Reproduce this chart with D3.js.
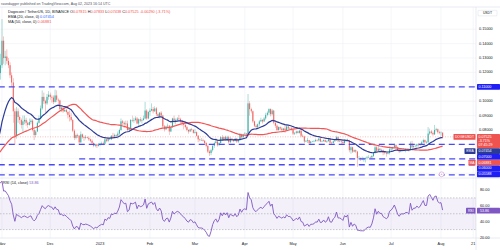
<!DOCTYPE html>
<meta charset="utf-8">
<script src="https://cdn.jsdelivr.net/npm/d3@7"></script>
<style>
    body { margin: 0; background: #fff; }
    svg { display: block; font-family: "Liberation Sans", Arial, sans-serif; }
</style>
<svg width="500" height="250"></svg>
<script>

    // closes before the visible window (Sep 11 - Oct 29 2022), warm-up for EMA / MA / RSI
    var preCloses = [
        0.0630, 0.0625, 0.0590, 0.0610, 0.0600, 0.0605, 0.0612, 0.0585, 0.0600, 0.0595,
        0.0580, 0.0590, 0.0600, 0.0605, 0.0595, 0.0605, 0.0615, 0.0608, 0.0612, 0.0610,
        0.0608, 0.0605, 0.0618, 0.0640, 0.0632, 0.0630, 0.0615, 0.0618, 0.0610, 0.0598,
        0.0595, 0.0597, 0.0600, 0.0595, 0.0594, 0.0600, 0.0602, 0.0595, 0.0590, 0.0588,
        0.0594, 0.0598, 0.0610, 0.0610, 0.0640, 0.0660, 0.0750, 0.0835, 0.1250
    ];

    // daily bars from Oct 30 2022 to Aug 2 2023 (open = previous close)
    var firstDay = Date.UTC(2022, 9, 30);
    var closes = [
        0.1195, 0.1250,
        // Nov
        0.1420, 0.1300, 0.1310, 0.1280, 0.1250, 0.1180, 0.1130, 0.0930, 0.0760, 0.0930,
        0.0890, 0.0870, 0.0835, 0.0860, 0.0870, 0.0850, 0.0835, 0.0855, 0.0865, 0.0800,
        0.0765, 0.0790, 0.0850, 0.0880, 0.0950, 0.1030, 0.1000, 0.0985, 0.1030, 0.1045,
        // Dec
        0.1030, 0.1025, 0.0995, 0.1040, 0.1010, 0.1005, 0.0945, 0.0955, 0.0930, 0.0940,
        0.0925, 0.0905, 0.0890, 0.0870, 0.0795, 0.0745, 0.0765, 0.0760, 0.0715, 0.0770,
        0.0750, 0.0745, 0.0750, 0.0745, 0.0735, 0.0725, 0.0710, 0.0690, 0.0700, 0.0690, 0.0700,
        // Jan
        0.0705, 0.0710, 0.0705, 0.0735, 0.0725, 0.0740, 0.0735, 0.0760, 0.0755, 0.0765,
        0.0760, 0.0775, 0.0800, 0.0860, 0.0850, 0.0840, 0.0845, 0.0800, 0.0810, 0.0870,
        0.0865, 0.0870, 0.0880, 0.0845, 0.0875, 0.0865, 0.0870, 0.0880, 0.0935, 0.0880, 0.0925,
        // Feb
        0.0935, 0.0945, 0.0930, 0.0950, 0.0910, 0.0895, 0.0920, 0.0900, 0.0825, 0.0805,
        0.0825, 0.0830, 0.0790, 0.0820, 0.0880, 0.0855, 0.0870, 0.0880, 0.0875, 0.0860,
        0.0845, 0.0835, 0.0820, 0.0800, 0.0790, 0.0805, 0.0800, 0.0780,
        // Mar
        0.0785, 0.0760, 0.0735, 0.0730, 0.0730, 0.0725, 0.0710, 0.0690, 0.0650, 0.0640,
        0.0660, 0.0690, 0.0710, 0.0720, 0.0695, 0.0710, 0.0750, 0.0730, 0.0750, 0.0735,
        0.0750, 0.0715, 0.0740, 0.0730, 0.0725, 0.0740, 0.0720, 0.0730, 0.0770, 0.0750, 0.0770,
        // Apr
        0.0775, 0.0770, 0.0985, 0.0945, 0.0930, 0.0860, 0.0830, 0.0820, 0.0840, 0.0860,
        0.0870, 0.0860, 0.0880, 0.0905, 0.0920, 0.0945, 0.0910, 0.0935, 0.0850, 0.0830,
        0.0800, 0.0820, 0.0810, 0.0800, 0.0810, 0.0800, 0.0825, 0.0810, 0.0810, 0.0800,
        // May
        0.0775, 0.0780, 0.0790, 0.0780, 0.0795, 0.0760, 0.0755, 0.0720, 0.0725, 0.0730,
        0.0710, 0.0720, 0.0720, 0.0722, 0.0730, 0.0728, 0.0740, 0.0720, 0.0722, 0.0730,
        0.0718, 0.0722, 0.0738, 0.0712, 0.0710, 0.0722, 0.0728, 0.0750, 0.0722, 0.0722, 0.0718,
        // Jun
        0.0710, 0.0728, 0.0722, 0.0730, 0.0660, 0.0680, 0.0650, 0.0660, 0.0650, 0.0605,
        0.0605, 0.0600, 0.0600, 0.0600, 0.0605, 0.0610, 0.0612, 0.0610, 0.0620, 0.0640,
        0.0680, 0.0655, 0.0670, 0.0660, 0.0660, 0.0645, 0.0640, 0.0635, 0.0640, 0.0665,
        // Jul
        0.0670, 0.0680, 0.0695, 0.0680, 0.0660, 0.0650, 0.0660, 0.0660, 0.0660, 0.0665,
        0.0665, 0.0660, 0.0705, 0.0680, 0.0690, 0.0690, 0.0700, 0.0695, 0.0700, 0.0715,
        0.0730, 0.0715, 0.0715, 0.0775, 0.0790, 0.0780, 0.0770, 0.0800, 0.0805, 0.0785, 0.0780,
        // Aug
        0.07815, 0.07525
    ];
    var highs = [
        0.1280, 0.1330,
        0.1570, 0.1450, 0.1350, 0.1360, 0.1300, 0.1270, 0.1200, 0.1160, 0.0950, 0.0960,
        0.0950, 0.0900, 0.0880, 0.0900, 0.0900, 0.0885, 0.0860, 0.0880, 0.0880, 0.0875,
        0.0810, 0.0800, 0.0860, 0.0900, 0.0970, 0.1075, 0.1060, 0.1010, 0.1050, 0.1070,
        0.1060, 0.1040, 0.1040, 0.1080, 0.1075, 0.1020, 0.1010, 0.0970, 0.0965, 0.0950,
        0.0950, 0.0930, 0.0935, 0.0920, 0.0875, 0.0805, 0.0775, 0.0775, 0.0765, 0.0790,
        0.0775, 0.0760, 0.0765, 0.0755, 0.0755, 0.0740, 0.0735, 0.0715, 0.0705, 0.0705, 0.0710,
        0.0710, 0.0720, 0.0720, 0.0745, 0.0740, 0.0745, 0.0745, 0.0765, 0.0780, 0.0775,
        0.0770, 0.0790, 0.0810, 0.0880, 0.0870, 0.0860, 0.0865, 0.0865, 0.0820, 0.0875,
        0.0900, 0.0885, 0.0895, 0.0890, 0.0880, 0.0890, 0.0880, 0.0900, 0.0995, 0.0945, 0.0930,
        0.0950, 0.0985, 0.0960, 0.0965, 0.0960, 0.0920, 0.0925, 0.0930, 0.0905, 0.0835,
        0.0830, 0.0845, 0.0835, 0.0830, 0.0885, 0.0900, 0.0880, 0.0890, 0.0905, 0.0885,
        0.0870, 0.0850, 0.0850, 0.0830, 0.0805, 0.0810, 0.0815, 0.0805,
        0.0805, 0.0790, 0.0765, 0.0740, 0.0745, 0.0740, 0.0730, 0.0715, 0.0695, 0.0660,
        0.0670, 0.0700, 0.0720, 0.0745, 0.0730, 0.0715, 0.0755, 0.0765, 0.0755, 0.0760,
        0.0760, 0.0760, 0.0750, 0.0745, 0.0735, 0.0745, 0.0745, 0.0735, 0.0780, 0.0775, 0.0775,
        0.0785, 0.0780, 0.1050, 0.1000, 0.0955, 0.0935, 0.0865, 0.0840, 0.0845, 0.0870,
        0.0885, 0.0875, 0.0890, 0.0920, 0.0930, 0.0950, 0.0950, 0.0945, 0.0940, 0.0860,
        0.0840, 0.0825, 0.0825, 0.0820, 0.0815, 0.0835, 0.0835, 0.0830, 0.0820, 0.0820,
        0.0805, 0.0785, 0.0795, 0.0795, 0.0800, 0.0800, 0.0770, 0.0760, 0.0730, 0.0745,
        0.0730, 0.0725, 0.0725, 0.0730, 0.0740, 0.0735, 0.0745, 0.0745, 0.0730, 0.0735,
        0.0735, 0.0728, 0.0745, 0.0740, 0.0718, 0.0728, 0.0735, 0.0760, 0.0755, 0.0730, 0.0725,
        0.0722, 0.0735, 0.0730, 0.0740, 0.0732, 0.0690, 0.0685, 0.0665, 0.0665, 0.0655,
        0.0620, 0.0610, 0.0615, 0.0610, 0.0610, 0.0620, 0.0625, 0.0618, 0.0625, 0.0645,
        0.0690, 0.0690, 0.0690, 0.0675, 0.0670, 0.0665, 0.0655, 0.0645, 0.0650, 0.0685,
        0.0675, 0.0685, 0.0705, 0.0700, 0.0685, 0.0675, 0.0665, 0.0665, 0.0668, 0.0670,
        0.0672, 0.0675, 0.0720, 0.0725, 0.0695, 0.0700, 0.0705, 0.0710, 0.0710, 0.0725,
        0.0740, 0.0735, 0.0725, 0.0820, 0.0810, 0.0800, 0.0790, 0.0835, 0.0815, 0.0810, 0.0795,
        0.0790, 0.07833
    ];
    var lows = [
        0.1140, 0.1150,
        0.1230, 0.1260, 0.1250, 0.1260, 0.1230, 0.1160, 0.1100, 0.0850, 0.0700, 0.0740,
        0.0850, 0.0840, 0.0810, 0.0780, 0.0840, 0.0830, 0.0815, 0.0830, 0.0840, 0.0790,
        0.0730, 0.0750, 0.0785, 0.0845, 0.0870, 0.0940, 0.0980, 0.0920, 0.0975, 0.1010,
        0.1010, 0.0990, 0.0980, 0.0990, 0.0995, 0.0980, 0.0930, 0.0925, 0.0920, 0.0925,
        0.0915, 0.0880, 0.0860, 0.0860, 0.0785, 0.0730, 0.0735, 0.0745, 0.0705, 0.0710,
        0.0740, 0.0725, 0.0735, 0.0740, 0.0725, 0.0715, 0.0700, 0.0680, 0.0680, 0.0675, 0.0685,
        0.0690, 0.0695, 0.0695, 0.0700, 0.0715, 0.0715, 0.0730, 0.0730, 0.0745, 0.0745,
        0.0745, 0.0740, 0.0765, 0.0795, 0.0830, 0.0815, 0.0830, 0.0790, 0.0795, 0.0805,
        0.0855, 0.0850, 0.0860, 0.0840, 0.0830, 0.0855, 0.0845, 0.0865, 0.0875, 0.0870, 0.0875,
        0.0900, 0.0930, 0.0915, 0.0925, 0.0895, 0.0885, 0.0880, 0.0885, 0.0815, 0.0790,
        0.0800, 0.0815, 0.0765, 0.0785, 0.0815, 0.0845, 0.0840, 0.0860, 0.0865, 0.0845,
        0.0830, 0.0805, 0.0810, 0.0790, 0.0775, 0.0785, 0.0790, 0.0775,
        0.0775, 0.0755, 0.0715, 0.0720, 0.0725, 0.0720, 0.0700, 0.0680, 0.0640, 0.0620,
        0.0625, 0.0650, 0.0675, 0.0705, 0.0685, 0.0690, 0.0705, 0.0725, 0.0725, 0.0725,
        0.0725, 0.0705, 0.0710, 0.0720, 0.0715, 0.0720, 0.0710, 0.0710, 0.0725, 0.0740, 0.0740,
        0.0765, 0.0760, 0.0760, 0.0900, 0.0915, 0.0850, 0.0820, 0.0815, 0.0810, 0.0825,
        0.0855, 0.0845, 0.0855, 0.0870, 0.0895, 0.0905, 0.0895, 0.0900, 0.0840, 0.0815,
        0.0790, 0.0795, 0.0800, 0.0790, 0.0785, 0.0780, 0.0795, 0.0800, 0.0805, 0.0795,
        0.0765, 0.0765, 0.0770, 0.0775, 0.0775, 0.0750, 0.0750, 0.0710, 0.0715, 0.0710,
        0.0700, 0.0695, 0.0715, 0.0715, 0.0720, 0.0720, 0.0720, 0.0715, 0.0715, 0.0720,
        0.0715, 0.0710, 0.0720, 0.0705, 0.0700, 0.0705, 0.0718, 0.0725, 0.0715, 0.0715, 0.0700,
        0.0700, 0.0705, 0.0718, 0.0718, 0.0645, 0.0635, 0.0640, 0.0645, 0.0640, 0.0545,
        0.0590, 0.0585, 0.0590, 0.0580, 0.0575, 0.0595, 0.0605, 0.0605, 0.0602, 0.0612,
        0.0635, 0.0650, 0.0650, 0.0645, 0.0650, 0.0625, 0.0630, 0.0615, 0.0630, 0.0630,
        0.0655, 0.0660, 0.0675, 0.0675, 0.0655, 0.0640, 0.0645, 0.0650, 0.0652, 0.0645,
        0.0655, 0.0650, 0.0655, 0.0670, 0.0678, 0.0680, 0.0680, 0.0685, 0.0690, 0.0695,
        0.0710, 0.0705, 0.0705, 0.0710, 0.0765, 0.0770, 0.0760, 0.0765, 0.0790, 0.0775, 0.0770,
        0.0760, 0.07438
    ];

    // horizontal support / resistance lines drawn on the chart
    var levels = [0.11, 0.07, 0.06, 0.05588, 0.0488];
    var levelFrom = ["2022-10-30", "2022-10-30", "2022-12-19", "2022-10-30", "2022-10-30"];
    var levelTags = ["0.11000", "0.07000", "0.06000", "0.05588", null];

    var priceTicks = [0.15, 0.14, 0.13, 0.12, 0.10, 0.09, 0.08];
    var rsiTicks = [80, 60, 40, 20];
    var rsiBand = [30, 50, 70];
    var timeTicks = ["2022-11-01", "2022-12-01", "2023-01-01", "2023-02-01", "2023-03-01",
        "2023-04-01", "2023-05-01", "2023-06-01", "2023-07-01", "2023-08-01", "2023-08-21"];
    var timeLabels = ["Nov", "Dec", "2023", "Feb", "Mar", "Apr", "May", "Jun", "Jul", "Aug", "21"];

    // last values printed by TradingView
    var ohlcLast = ["0.07815", "0.07833", "0.07438", "0.07525"];
    var changeLast = "-0.00290 (-3.71%)";
    var emaLast = 0.07454, maLast = 0.06881, rsiLast = 53.86;

    if (closes.length !== highs.length || closes.length !== lows.length) {
        throw new Error("length mismatch " + closes.length + " " + highs.length + " " + lows.length);
    }

    var svg = d3.select("svg");
    var axisX = 476, paneTop = 7, paneBot = 178, rsiBot = 238;
    var upColor = "#26a69a", downColor = "#ef5350";
    var levelColor = "#4a4af4", emaColor = "#2b3a96", maColor = "#f25555", rsiColor = "#7e57c2";
    var fs = 3.8;

    var x = d3.scaleUtc()
        .domain([Date.UTC(2022, 10, 1), Date.UTC(2023, 7, 1)])
        .range([2, 441]);
    var yP = d3.scaleLinear().domain([0.05, 0.15]).range([173.2, 29.2]);
    var yR = d3.scaleLinear().domain([20, 80]).range([237.5, 190]);

    function dayDate(i) { return new Date(firstDay + i * 864e5); }

    // bars
    var bars = closes.map(function (c, i) {
        var o = i === 0 ? preCloses[preCloses.length - 1] : closes[i - 1];
        return {date: dayDate(i), o: o, h: highs[i], l: lows[i], c: c};
    });

    // indicators over warm-up + visible closes
    var all = preCloses.concat(closes);
    var nPre = preCloses.length;
    var allDates = all.map(function (v, i) { return dayDate(i - nPre); });

    function ema(arr, n) {
        var k = 2 / (n + 1), prev, out = [];
        arr.forEach(function (v, i) {
            prev = i === 0 ? v : v * k + prev * (1 - k);
            out.push(prev);
        });
        return out;
    }

    function sma(arr, n) {
        return arr.map(function (v, i) {
            return i < n - 1 ? null : d3.mean(arr.slice(i - n + 1, i + 1));
        });
    }

    function rsi(arr, n) {
        var out = [null], ag = 0, al = 0;
        for (var i = 1; i < arr.length; i++) {
            var ch = arr[i] - arr[i - 1], g = Math.max(ch, 0), l = Math.max(-ch, 0);
            if (i <= n) {
                ag += g / n; al += l / n;
                out.push(i === n ? 100 - 100 / (1 + ag / al) : null);
            } else {
                ag = (ag * (n - 1) + g) / n;
                al = (al * (n - 1) + l) / n;
                out.push(al === 0 ? 100 : 100 - 100 / (1 + ag / al));
            }
        }
        return out;
    }

    var emaVals = ema(all, 20), maVals = sma(all, 50), rsiVals = rsi(all, 14);

    // clip paths
    var defs = svg.append("defs");
    defs.append("clipPath").attr("id", "pricePane")
        .append("rect").attr("x", 0).attr("y", paneTop).attr("width", axisX).attr("height", paneBot - paneTop);
    defs.append("clipPath").attr("id", "rsiPane")
        .append("rect").attr("x", 0).attr("y", paneBot).attr("width", axisX).attr("height", rsiBot - paneBot);

    // grid
    var grid = svg.append("g").attr("stroke", "#eef0f5").attr("stroke-width", 0.6);
    grid.selectAll(".v").data(timeTicks).enter().append("line")
        .attr("x1", function (d) { return x(new Date(d)); })
        .attr("x2", function (d) { return x(new Date(d)); })
        .attr("y1", paneTop).attr("y2", rsiBot);
    grid.selectAll(".h").data([0.15, 0.14, 0.13, 0.12, 0.11, 0.10, 0.09, 0.08, 0.07, 0.06, 0.05]).enter().append("line")
        .attr("x1", 0).attr("x2", axisX)
        .attr("y1", function (d) { return yP(d); }).attr("y2", function (d) { return yP(d); });

    // frame lines
    var frame = svg.append("g").attr("stroke", "#e0e3eb").attr("stroke-width", 0.7);
    [paneTop, paneBot, rsiBot].forEach(function (yy) {
        frame.append("line").attr("x1", 0).attr("x2", 500).attr("y1", yy).attr("y2", yy);
    });
    frame.append("line").attr("x1", axisX).attr("x2", axisX).attr("y1", paneTop).attr("y2", 250);

    // price pane
    var price = svg.append("g").attr("clip-path", "url(#pricePane)");

    price.selectAll(".wick").data(bars).enter().append("line")
        .attr("x1", function (d) { return x(d.date); })
        .attr("x2", function (d) { return x(d.date); })
        .attr("y1", function (d) { return yP(Math.max(d.h, d.o, d.c)); })
        .attr("y2", function (d) { return yP(Math.min(d.l, d.o, d.c)); })
        .attr("stroke", function (d) { return d.c >= d.o ? upColor : downColor; })
        .attr("stroke-width", 0.45)
        .attr("opacity", 0.85);

    price.selectAll(".body").data(bars).enter().append("rect")
        .attr("x", function (d) { return x(d.date) - 0.55; })
        .attr("width", 1.1)
        .attr("y", function (d) { return yP(Math.max(d.o, d.c)); })
        .attr("height", function (d) { return Math.max(0.4, Math.abs(yP(d.o) - yP(d.c))); })
        .attr("fill", function (d) { return d.c >= d.o ? upColor : downColor; })
        .attr("opacity", 0.85);

    // support / resistance levels
    price.selectAll(".level").data(levels).enter().append("line")
        .attr("x1", function (d, i) { return x(new Date(levelFrom[i])); })
        .attr("x2", axisX)
        .attr("y1", function (d) { return yP(d); })
        .attr("y2", function (d) { return yP(d); })
        .attr("stroke", levelColor)
        .attr("stroke-width", 1.3)
        .attr("stroke-dasharray", "6,4");

    var line = d3.line()
        .defined(function (d) { return d[1] != null; })
        .x(function (d) { return x(d[0]); })
        .y(function (d) { return yP(d[1]); });

    price.append("path")
        .attr("d", line(allDates.map(function (d, i) { return [d, maVals[i]]; }).slice(nPre - 2)))
        .attr("fill", "none").attr("stroke", maColor).attr("stroke-width", 1.2);
    price.append("path")
        .attr("d", line(allDates.map(function (d, i) { return [d, emaVals[i]]; }).slice(nPre - 2)))
        .attr("fill", "none").attr("stroke", emaColor).attr("stroke-width", 1.2);

    // last price line
    var lastClose = closes[closes.length - 1];
    price.append("line")
        .attr("x1", 0).attr("x2", axisX)
        .attr("y1", yP(lastClose)).attr("y2", yP(lastClose))
        .attr("stroke", downColor).attr("stroke-width", 0.5)
        .attr("stroke-dasharray", "1,1.5").attr("opacity", 0.7);

    // RSI pane
    var rsiG = svg.append("g").attr("clip-path", "url(#rsiPane)");
    rsiG.append("rect")
        .attr("x", 0).attr("width", axisX)
        .attr("y", yR(70)).attr("height", yR(30) - yR(70))
        .attr("fill", rsiColor).attr("opacity", 0.09);
    rsiG.selectAll(".band").data(rsiBand).enter().append("line")
        .attr("x1", 0).attr("x2", axisX)
        .attr("y1", function (d) { return yR(d); }).attr("y2", function (d) { return yR(d); })
        .attr("stroke", "#9598a1").attr("stroke-width", 0.5).attr("stroke-dasharray", "1.5,1.5");
    rsiG.append("path")
        .attr("d", d3.line()
            .defined(function (d) { return d[1] != null; })
            .x(function (d) { return x(d[0]); })
            .y(function (d) { return yR(d[1]); })(allDates.map(function (d, i) { return [d, rsiVals[i]]; }).slice(nPre - 2)))
        .attr("fill", "none").attr("stroke", rsiColor).attr("stroke-width", 0.9);

    // header and legends
    svg.append("text").attr("x", 1).attr("y", 4)
        .attr("dominant-baseline", "middle").attr("font-size", 3.6).attr("fill", "#50535e")
        .text("ravedagger published on TradingView.com, Aug 02, 2023 16:14 UTC");

    var leg1 = svg.append("text").attr("x", 8).attr("y", 12)
        .attr("dominant-baseline", "middle").attr("font-size", fs).attr("fill", "#131722");
    leg1.append("tspan").text("Dogecoin / TetherUS, 1D, BINANCE ");
    ["O", "H", "L", "C"].forEach(function (k, i) {
        leg1.append("tspan").text(" " + k);
        leg1.append("tspan").attr("fill", downColor).text(ohlcLast[i]);
    });
    leg1.append("tspan").attr("fill", downColor).text(" " + changeLast);

    var leg2 = svg.append("text").attr("x", 8).attr("y", 17)
        .attr("dominant-baseline", "middle").attr("font-size", fs).attr("fill", "#131722");
    leg2.append("tspan").text("EMA (20, close, 0) ");
    leg2.append("tspan").attr("fill", "#2962ff").text(emaLast.toFixed(5));

    var leg3 = svg.append("text").attr("x", 8).attr("y", 22)
        .attr("dominant-baseline", "middle").attr("font-size", fs).attr("fill", "#131722");
    leg3.append("tspan").text("MA (50, close, 0) ");
    leg3.append("tspan").attr("fill", downColor).text(maLast.toFixed(5));

    var leg4 = svg.append("text").attr("x", 3).attr("y", 183.3)
        .attr("dominant-baseline", "middle").attr("font-size", fs).attr("fill", "#131722");
    leg4.append("tspan").text("RSI (14, close) ");
    leg4.append("tspan").attr("fill", rsiColor).text(rsiLast.toFixed(2));

    // price axis
    var axis = svg.append("g");
    axis.append("rect").attr("x", 478).attr("y", 10.3).attr("width", 19).attr("height", 5.6)
        .attr("fill", "#fff").attr("stroke", "#d1d4dc").attr("stroke-width", 0.4).attr("rx", 0.8);
    axis.append("text").attr("x", 487.5).attr("y", 13.2).attr("text-anchor", "middle")
        .attr("dominant-baseline", "middle").attr("font-size", 3.4).attr("fill", "#131722").text("USDT");

    axis.selectAll(".pt").data(priceTicks).enter().append("text")
        .attr("x", 479).attr("y", function (d) { return yP(d); })
        .attr("dominant-baseline", "middle").attr("font-size", fs).attr("fill", "#131722")
        .text(function (d) { return d.toFixed(5); });

    axis.selectAll(".rt").data(rsiTicks).enter().append("text")
        .attr("x", 480).attr("y", function (d) { return yR(d); })
        .attr("dominant-baseline", "middle").attr("font-size", fs).attr("fill", "#131722")
        .text(function (d) { return d.toFixed(2); });

    // coloured labels on the price scale, pushed down when they overlap
    var lineH = 4.2, pad = 0.8;
    var tags = [
        {v: lastClose, lines: [lastClose.toFixed(5), "-3.71%", "07:45:29"], fill: downColor, name: "DOGEUSDT", nameW: 22},
        {v: emaLast, lines: [emaLast.toFixed(5)], fill: emaColor, name: "EMA", nameW: 11},
        {v: maLast, lines: [maLast.toFixed(5)], fill: downColor, name: "MA", nameW: 7}
    ];
    levels.forEach(function (v, i) {
        if (levelTags[i]) tags.push({v: v, lines: [levelTags[i]], fill: "#1f1ff5"});
    });
    tags.sort(function (a, b) { return b.v - a.v; });
    var prevBottom = -1e9;
    tags.forEach(function (t) {
        var h = t.lines.length * lineH + pad * 2;
        var top = Math.max(yP(t.v) - lineH / 2 - pad, prevBottom);
        prevBottom = top + h;
        axis.append("rect").attr("x", 477).attr("y", top).attr("width", 23).attr("height", h)
            .attr("fill", t.fill).attr("rx", 0.6);
        t.lines.forEach(function (s, j) {
            axis.append("text").attr("x", 478.5).attr("y", top + pad + lineH * (j + 0.5))
                .attr("dominant-baseline", "middle").attr("font-size", 3.6).attr("fill", "#fff").text(s);
        });
        if (t.name) {
            axis.append("rect").attr("x", axisX - 0.5 - t.nameW).attr("y", top).attr("width", t.nameW).attr("height", lineH + pad * 2)
                .attr("fill", t.fill).attr("rx", 0.6);
            axis.append("text").attr("x", axisX - 0.5 - t.nameW / 2).attr("y", top + pad + lineH / 2)
                .attr("text-anchor", "middle").attr("dominant-baseline", "middle")
                .attr("font-size", 3.4).attr("fill", "#fff").text(t.name);
        }
    });

    // RSI value tag
    var ry = yR(rsiLast);
    axis.append("rect").attr("x", 477).attr("y", ry - 2.9).attr("width", 23).attr("height", 5.8)
        .attr("fill", rsiColor).attr("rx", 0.6);
    axis.append("text").attr("x", 480).attr("y", ry).attr("dominant-baseline", "middle")
        .attr("font-size", 3.6).attr("fill", "#fff").text(rsiLast.toFixed(2));
    axis.append("rect").attr("x", 466).attr("y", ry - 2.9).attr("width", 9.5).attr("height", 5.8)
        .attr("fill", rsiColor).attr("rx", 0.6);
    axis.append("text").attr("x", 470.75).attr("y", ry).attr("text-anchor", "middle")
        .attr("dominant-baseline", "middle").attr("font-size", 3.4).attr("fill", "#fff").text("RSI");

    // small marker near the last bar
    var mk = svg.append("g").attr("transform", "translate(" + (x(bars[bars.length - 1].date) - 1) + ",174.3)");
    mk.append("circle").attr("r", 2.4).attr("fill", "#fff").attr("stroke", "#c77dcc").attr("stroke-width", 0.5);
    mk.append("text").attr("text-anchor", "middle").attr("dominant-baseline", "middle")
        .attr("font-size", 3.4).attr("fill", "#a05bb0").text("+");

    // time axis
    svg.selectAll(".tl").data(timeTicks).enter().append("text")
        .attr("x", function (d) { return x(new Date(d)); })
        .attr("y", 243.8)
        .attr("text-anchor", "middle").attr("dominant-baseline", "middle")
        .attr("font-size", fs).attr("fill", "#131722")
        .text(function (d, i) { return timeLabels[i]; });

</script>
